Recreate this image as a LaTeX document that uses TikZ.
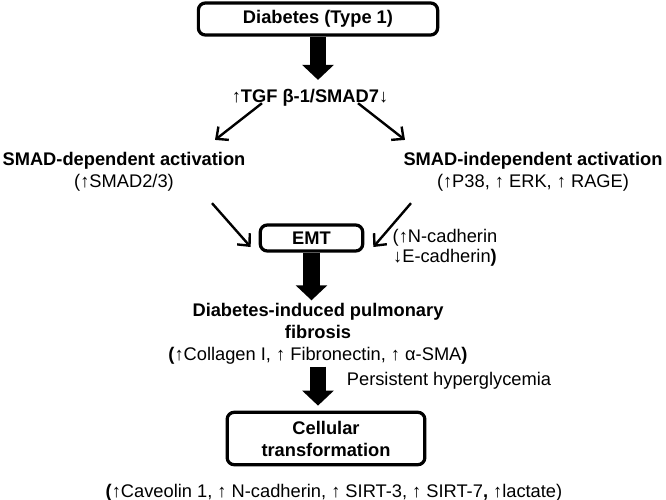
\documentclass[tikz,border=0pt]{standalone}
\usepackage{fontspec}
\setmainfont{Liberation Sans}
\usetikzlibrary{arrows.meta}

\tikzset{
  txt/.style={font=\fontsize{13}{15.6}\selectfont, inner sep=0pt, align=center},
  bold txt/.style={txt, font=\fontsize{13}{15.6}\selectfont\bfseries},
  box/.style={draw, line width=2.3pt, rounded corners=5pt, bold txt},
  fat arrow/.style={line width=12pt, -{Triangle[width=22pt,length=10.7pt]}},
  thin arrow/.style={line width=1.7pt, -{Straight Barb[length=6.5pt,width=12pt]}}
}

\begin{document}
\begin{tikzpicture}[x=0.025cm, y=-0.025cm]
    \useasboundingbox (0,0) rectangle (666,500);

    % top: diabetes and TGF
    \node [box, minimum width=5.98cm, minimum height=0.8cm] (diab) at (318,19) {Diabetes (Type 1)};
    \node [bold txt] (tgf) at (310,97.7) {↑TGF β-1/SMAD7↓};

    % two pathways
    \node [bold txt] (sdep)   at (124,171.7) {SMAD-dependent activation\\\textmd{(↑SMAD2/3)}};
    \node [bold txt] (sindep) at (533,171.7) {SMAD-independent activation\\\textmd{(↑P38, ↑ ERK, ↑ RAGE)}};

    % EMT
    \node [box, minimum width=2.56cm, minimum height=0.65cm] (emt) at (311.5,238) {EMT};
    \node [txt, font=\fontsize{13}{14.2}\selectfont] (cadh) at (445,247.7) {(↑N-cadherin\\↓E-cadherin\textbf{)}};

    % fibrosis
    \node [txt] (fib) at (318,334) {\textbf{Diabetes-induced pulmonary}\\\textbf{fibrosis}\\\textbf{(}↑Collagen I, ↑ Fibronectin, ↑ α-SMA\textbf{)}};
    \node [txt] (hyper) at (449,380.7) {Persistent hyperglycemia};

    % cellular transformation
    \node [box, minimum width=4.94cm, minimum height=1.31cm] (cell) at (326,438.5) {Cellular\\transformation};
    \node [txt] (marks) at (334,492.7) {\textbf{(}↑Caveolin 1, ↑ N-cadherin, ↑ SIRT-3, ↑ SIRT-7\textbf{,} ↑lactate)};

    % fat arrows
    \draw [fat arrow, shorten >=6.4pt] (diab.south) -- (diab.south |- tgf.north);
    \draw [fat arrow, shorten >=2.1pt] (emt.south) -- (emt.south |- fib.north);
    \draw [fat arrow, shorten <=1.4pt, shorten >=3.6pt] (fib.south) -- (fib.south |- cell.north);

    % thin arrows
    \draw [thin arrow] ([shift={(-48,-3.3)}]tgf.south) -- ([shift={(91,-12)}]sdep.north);
    \draw [thin arrow] ([shift={(48,-3.3)}]tgf.south) -- ([shift={(-128,-12)}]sindep.north);
    \draw [thin arrow] ([shift={(88,11.7)}]sdep.south) -- ([shift={(-8,9)}]emt.west);
    \draw [thin arrow] ([shift={(-122,11.7)}]sindep.south) -- ([shift={(9,9)}]emt.east);
\end{tikzpicture}
\end{document}
